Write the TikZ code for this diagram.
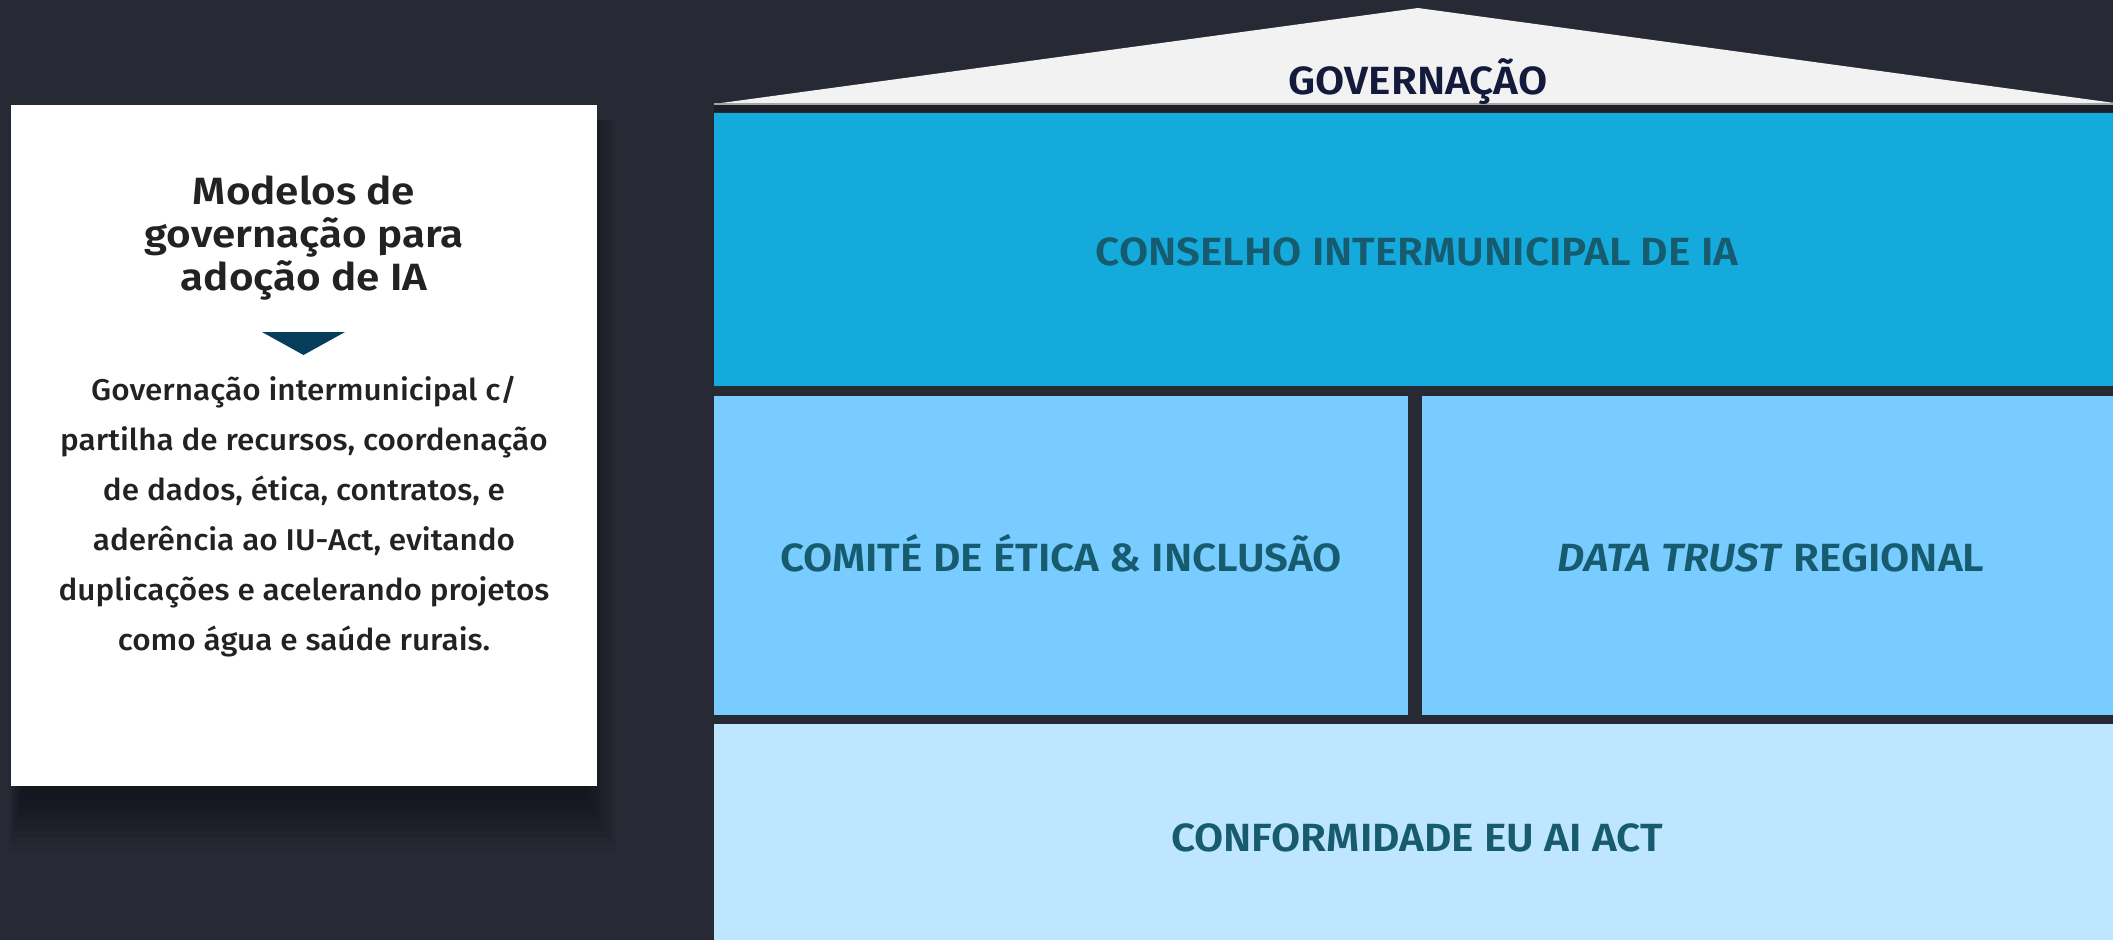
\documentclass[tikz,border=0pt]{standalone}
\usepackage{fontspec}
\setmainfont{Fira Sans}
\newfontfamily\fmed{Fira Sans Medium}[FakeStretch=1.05]
\newfontfamily\fsb{Fira Sans SemiBold}[FakeStretch=1.075]
\newfontfamily\ftitle{Fira Sans SemiBold}[FakeStretch=1.11]
\definecolor{bg}{HTML}{272935}
\definecolor{roof}{HTML}{F2F2F2}
\definecolor{govtext}{HTML}{141A3C}
\definecolor{topblue}{HTML}{14AADC}
\definecolor{midblue}{HTML}{78CCFF}
\definecolor{botblue}{HTML}{BFE6FF}
\definecolor{lbl}{HTML}{175B6E}
\definecolor{arrowc}{HTML}{053D5B}
\definecolor{cardtext}{HTML}{222222}
\tikzset{
  px/.style={x=0.75pt,y=-0.75pt},
  block/.style={inner sep=0pt, outer sep=0pt},
  blocklabel/.style={inner sep=0pt, anchor=base, text=lbl, font=\fsb\fontsize{29.5}{32}\selectfont},
}
\begin{document}
\begin{tikzpicture}[px]
\useasboundingbox (0,0) rectangle (2113,940);
\fill[bg] (0,0) rectangle (2113,940);
% card shadow
\foreach \i in {1,...,10}
  \fill[black,opacity=0.045] (24-\i*1.5,120) rectangle (584+\i*3.2,790+\i*6);
% card
\node[block, fill=white, minimum width=439.5pt, minimum height=510.75pt, anchor=north west] (card) at (11,105) {};
\node[inner sep=0pt, anchor=base, text=cardtext, align=center, font=\ftitle\fontsize{28.5}{31.9}\selectfont] (title) at (304,290) {Modelos de\\governação para\\adoção de IA};
\coordinate (arrL) at (262,332);
\coordinate (arrR) at (345,332);
\coordinate (arrT) at (303.5,355);
\fill[arrowc] (arrL) -- (arrR) -- (arrT) -- cycle;
\node[inner sep=0pt, anchor=base, text=cardtext, align=center, font=\fmed\fontsize{22.5}{37.5}\selectfont] (body) at (304,650) {Governação intermunicipal c/\\partilha de recursos, coordenação\\de dados, ética, contratos, e\\aderência ao IU-Act, evitando\\duplicações e acelerando projetos\\como água e saúde rurais.};
% roof
\fill[black,opacity=0.25] (714,104) rectangle (2113,112);
\coordinate (roofL) at (714,104);
\coordinate (roofA) at (1418,8);
\coordinate (roofR) at (2122,104);
\fill[roof] (roofL) -- (roofA) -- (roofR) -- cycle;
\draw[gray!70,line width=1] (roofL) -- (roofR);
\node[inner sep=0pt, anchor=base, text=govtext, font=\fsb\fontsize{29.5}{32}\selectfont] (gov) at (1418,94) {GOVERNAÇÃO};
% blocks
\fill[topblue] (714,113) rectangle (2113,386);
\node[blocklabel] (conselho) at (1417,265) {CONSELHO INTERMUNICIPAL DE IA};
\fill[midblue] (714,396) rectangle (1408,715);
\node[blocklabel] (comite) at (1061,571) {COMITÉ DE ÉTICA \& INCLUSÃO};
\fill[midblue] (1422,396) rectangle (2113,715);
\node[blocklabel] (trust) at (1771,571) {\textit{DATA TRUST} REGIONAL};
\fill[botblue] (714,724) rectangle (2113,940);
\node[blocklabel] (conf) at (1417,851) {CONFORMIDADE EU AI ACT};
\end{tikzpicture}
\end{document}
